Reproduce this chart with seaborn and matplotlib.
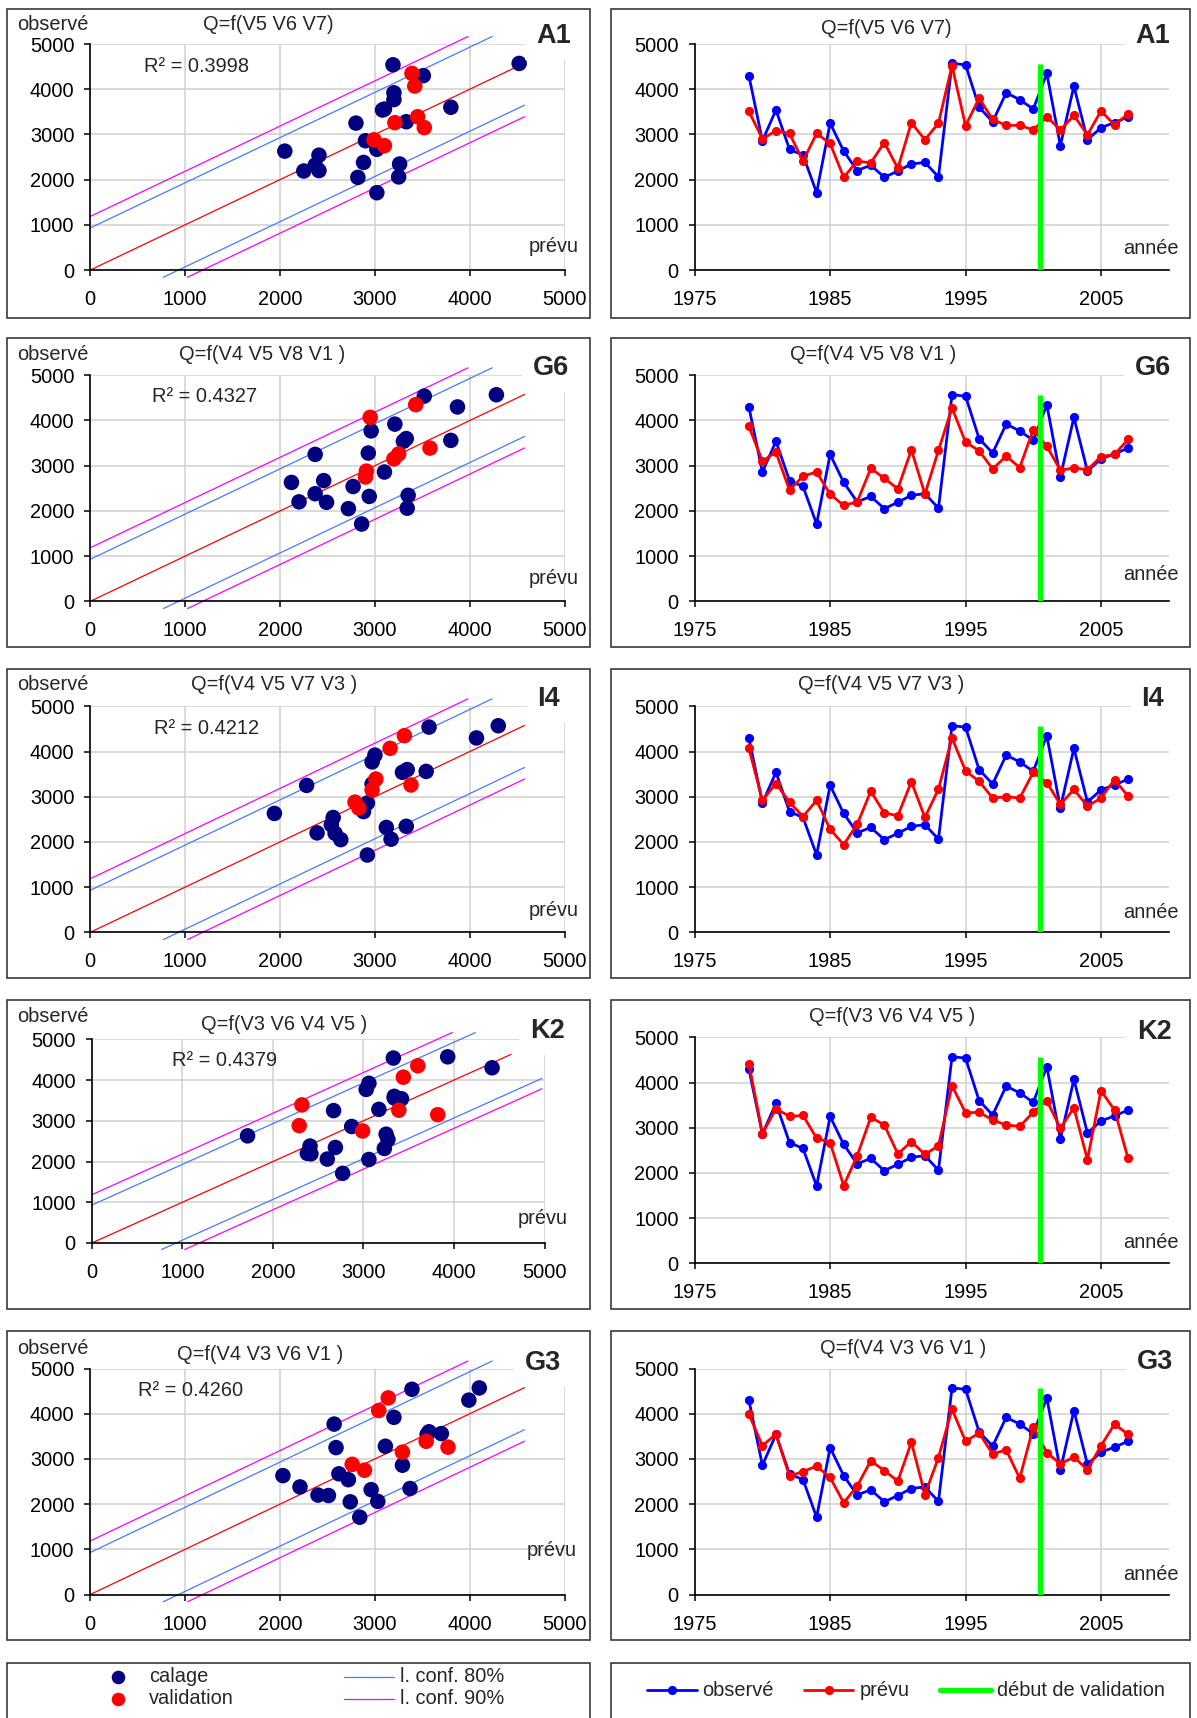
import numpy as np
import pandas as pd
import matplotlib
matplotlib.use("Agg")
import matplotlib.pyplot as plt
from matplotlib.patches import Rectangle
from matplotlib.lines import Line2D
import seaborn as sns

# ---- données ----
annees = list(range(1979, 2008))
debut_validation = 2001

observe = [4300, 2860, 3540, 2670, 2540, 1710, 3250, 2630, 2200, 2320,
           2050, 2190, 2345, 2380, 2060, 4570, 4540, 3600, 3280, 3920,
           3770, 3560, 4350, 2750, 4070, 2880, 3150, 3260, 3390]

prevu_A1 = [3510, 2900, 3080, 3020, 2410, 3020, 2800, 2050, 2410, 2370,
            2820, 2250, 3260, 2880, 3250, 4520, 3190, 3800, 3330, 3200,
            3200, 3100, 3390, 3100, 3420, 2990, 3520, 3210, 3450]
prevu_G6 = [3870, 3100, 3300, 2460, 2770, 2860, 2370, 2120, 2200, 2940,
            2720, 2490, 3350, 2370, 3340, 4280, 3520, 3330, 2930, 3210,
            2960, 3800, 3430, 2900, 2950, 2910, 3200, 3250, 3580]
prevu_I4 = [4070, 2920, 3290, 2880, 2560, 2920, 2280, 1940, 2390, 3120,
            2640, 2580, 3330, 2540, 3170, 4300, 3570, 3340, 2970, 3000,
            2970, 3540, 3310, 2830, 3160, 2790, 2970, 3380, 3010]
prevu_K2 = [4420, 2870, 3420, 3250, 3270, 2770, 2670, 1720, 2380, 3230,
            3060, 2420, 2690, 2410, 2600, 3930, 3330, 3340, 3170, 3060,
            3030, 3340, 3600, 2990, 3440, 2290, 3820, 3390, 2320]
prevu_G3 = [3990, 3290, 3550, 2620, 2720, 2840, 2590, 2030, 2400, 2960,
            2740, 2510, 3370, 2210, 3030, 4100, 3390, 3570, 3110, 3200,
            2570, 3700, 3140, 2890, 3040, 2760, 3290, 3770, 3540]

stations = ["A1", "G6", "I4", "K2", "G3"]
formules = ["Q=f(V5 V6 V7)", "Q=f(V4 V5 V8 V1 )", "Q=f(V4 V5 V7 V3 )",
            "Q=f(V3 V6 V4 V5 )", "Q=f(V4 V3 V6 V1 )"]
r2 = ["0.3998", "0.4327", "0.4212", "0.4379", "0.4260"]
prevus = [prevu_A1, prevu_G6, prevu_I4, prevu_K2, prevu_G3]

conf80 = 930     # demi-largeur de l'intervalle à 80 %
conf90 = 1185    # demi-largeur de l'intervalle à 90 %

# ---- style ----
sns.set_theme(style="white")
plt.rcParams["font.family"] = ["Liberation Sans", "DejaVu Sans"]
FS = 14.4
LAB_FS = 19.5

C_OBS = "#0000ff"
C_PRE = "#ff0000"
C_VERT = "#00ff00"
C_CAL = "#000080"
C_80 = "#4a78ff"
C_90 = "#ff00ff"
C_GRID = "#cfcfcf"

MS_TS = 6.6      # taille des marqueurs des séries
LW_TS = 2.0      # épaisseur des séries

W, H = 1197, 1718
fig = plt.figure(figsize=(W / 100, H / 100), dpi=100)
fig.patch.set_facecolor("white")


def add_ax(x, y, w, h):
    return fig.add_axes([x / W, 1 - (y + h) / H, w / W, h / H])


def cadre(x, y, w, h):
    fig.patches.append(Rectangle((x / W, 1 - (y + h) / H), w / W, h / H,
                                 transform=fig.transFigure, fill=False,
                                 ec="#3a3a3a", lw=1.2, zorder=0))


def ftext(x, y, s, ha="left", va="center", **kw):
    kw.setdefault("fontsize", FS)
    return fig.text(x / W, 1 - y / H, s, ha=ha, va=va, **kw)


def fline(x1, x2, y, **kw):
    fig.add_artist(Line2D([x1 / W, x2 / W], [1 - y / H, 1 - y / H],
                          transform=fig.transFigure, **kw))


def fpoint(x, y, **kw):
    fig.add_artist(Line2D([x / W], [1 - y / H], transform=fig.transFigure,
                          ls="none", marker="o", **kw))


def style_axes(ax):
    ax.set_facecolor("white")
    for s in ["top", "right"]:
        ax.spines[s].set_visible(False)
    for s in ["left", "bottom"]:
        ax.spines[s].set_color("black")
        ax.spines[s].set_linewidth(1.2)
    ax.grid(True, color=C_GRID, lw=1.1)
    ax.set_axisbelow(True)
    ax.tick_params(axis="both", which="major", direction="out", length=4.5,
                   width=1.1, color="black", labelsize=FS, labelcolor="black",
                   bottom=True, left=True)
    ax.tick_params(axis="x", pad=10)
    ax.tick_params(axis="y", pad=7)
    ax.set_xlabel("")
    ax.set_ylabel("")


# ---- mise en page (pixels) ----
box_top = [9, 338, 669, 1000, 1331]
ax_top = [44, 375.3, 706.3, 1037.3, 1368.5]
sc_axes = [(90.3, 44, 474.4, 226), (90.3, 375.3, 474.4, 226),
           (90.3, 706.3, 474.4, 226), (91.8, 1039.3, 452.8, 203.7),
           (90.3, 1368.5, 474.4, 226)]
sc_title_x = [268, 262, 274, 284, 260]
sc_title_y = [24, 354, 685, 1025, 1355]
obs_y = [24, 354, 685, 1017, 1349]
r2_x = [144, 152, 154, 172, 138.5]
r2_y = [67, 397, 728, 1060, 1390]
sc_lab_x = [571, 569, 560, 565, 561]
sc_lab_y = [36, 368, 699, 1031, 1363]
prevu_x = [579, 579, 579, 568, 577]
prevu_y = [246, 578, 910, 1218, 1551]
ts_title_x = [886, 873, 881, 892, 903]
ts_title_y = [29, 355, 685, 1017, 1348]
ts_lab_x = [1170, 1171, 1164, 1172, 1173]
ts_lab_y = [36, 368, 699, 1032, 1362]
annee_y = [249, 575, 912, 1243, 1575]
red_end = [4560, 4576, 4576, 4630, 4576]
band_end = [4576, 4576, 4576, 4970, 4576]
Y_HAUT, Y_BAS = 5165, -160

lab_box = dict(facecolor="white", edgecolor="none", boxstyle="square,pad=0.4")

for i, st in enumerate(stations):
    df = pd.DataFrame({"annee": annees, "observe": observe, "prevu": prevus[i]})
    df["periode"] = np.where(df["annee"] >= debut_validation, "validation", "calage")

    cadre(7, box_top[i], 583, 309)
    cadre(611, box_top[i], 579, 309)

    # -- nuage observé / prévu --
    ax = add_ax(*sc_axes[i])
    ax.set_xlim(0, 5000)
    ax.set_ylim(0, 5000)
    # droite 1:1 et intervalles de confiance
    ax.plot([0, red_end[i]], [0, red_end[i]], color=C_PRE, lw=0.9,
            clip_on=False, zorder=2)
    for off, col in [(conf80, C_80), (conf90, C_90)]:
        ax.plot([0, Y_HAUT - off], [off, Y_HAUT], color=col, lw=0.9,
                clip_on=False, zorder=2)
        ax.plot([Y_BAS + off, band_end[i]], [Y_BAS, band_end[i] - off],
                color=col, lw=0.9, clip_on=False, zorder=2)
    sns.scatterplot(data=df, x="prevu", y="observe", hue="periode",
                    palette={"calage": C_CAL, "validation": C_PRE},
                    hue_order=["calage", "validation"], s=125,
                    edgecolor="none", linewidth=0, legend=False, ax=ax,
                    zorder=5, clip_on=False)
    ax.set_xticks(range(0, 5001, 1000))
    ax.set_yticks(range(0, 5001, 1000))
    style_axes(ax)

    ftext(17, obs_y[i], "observé")
    ftext(sc_title_x[i], sc_title_y[i], formules[i], ha="center")
    ftext(r2_x[i], r2_y[i], "R² = " + r2[i])
    ftext(sc_lab_x[i], sc_lab_y[i], st, ha="right", fontsize=LAB_FS,
          fontweight="bold", bbox=lab_box, zorder=4)
    ftext(prevu_x[i], prevu_y[i], "prévu", ha="right")

    # -- série chronologique --
    ax2 = add_ax(694.7, ax_top[i], 474, 226)
    ax2.set_xlim(1975, 2010)
    ax2.set_ylim(0, 5000)
    sns.lineplot(data=df, x="annee", y="observe", color=C_OBS, marker="o",
                 markersize=MS_TS, markeredgewidth=0, markeredgecolor=C_OBS,
                 linewidth=LW_TS, ax=ax2, zorder=3)
    sns.lineplot(data=df, x="annee", y="prevu", color=C_PRE, marker="o",
                 markersize=MS_TS, markeredgewidth=0, markeredgecolor=C_PRE,
                 linewidth=LW_TS, ax=ax2, zorder=4)
    ax2.vlines(debut_validation - 0.5, 0, 4560, color=C_VERT, lw=3.8, zorder=6)
    ax2.set_xticks([1975, 1985, 1995, 2005])
    ax2.set_yticks(range(0, 5001, 1000))
    style_axes(ax2)

    ftext(ts_title_x[i], ts_title_y[i], formules[i], ha="center")
    ftext(ts_lab_x[i], ts_lab_y[i], st, ha="right", fontsize=LAB_FS,
          fontweight="bold", bbox=lab_box, zorder=4)
    ftext(1179, annee_y[i], "année", ha="right")

# ---- légendes ----
cadre(7, 1663, 583, 70)
cadre(611, 1663, 579, 70)

fpoint(117.5, 1677, color=C_CAL, ms=9.8, mew=0)
ftext(149, 1677, "calage")
fpoint(117.5, 1699, color=C_PRE, ms=9.8, mew=0)
ftext(149, 1699, "validation")
fline(344, 394, 1677, color=C_80, lw=0.9)
ftext(400, 1677, "l. conf. 80%")
fline(344, 394, 1699, color=C_90, lw=0.9)
ftext(400, 1699, "l. conf. 90%")

fline(647, 697, 1690, color=C_OBS, lw=LW_TS)
fpoint(672, 1690, color=C_OBS, ms=MS_TS, mew=0)
ftext(702, 1690, "observé")
fline(804, 853, 1690, color=C_PRE, lw=LW_TS)
fpoint(829, 1690, color=C_PRE, ms=MS_TS, mew=0)
ftext(860, 1690, "prévu")
fline(940, 991, 1690, color=C_VERT, lw=3.8)
ftext(997, 1690, "début de validation")

fig.savefig("out.png", dpi=100, facecolor="white")
